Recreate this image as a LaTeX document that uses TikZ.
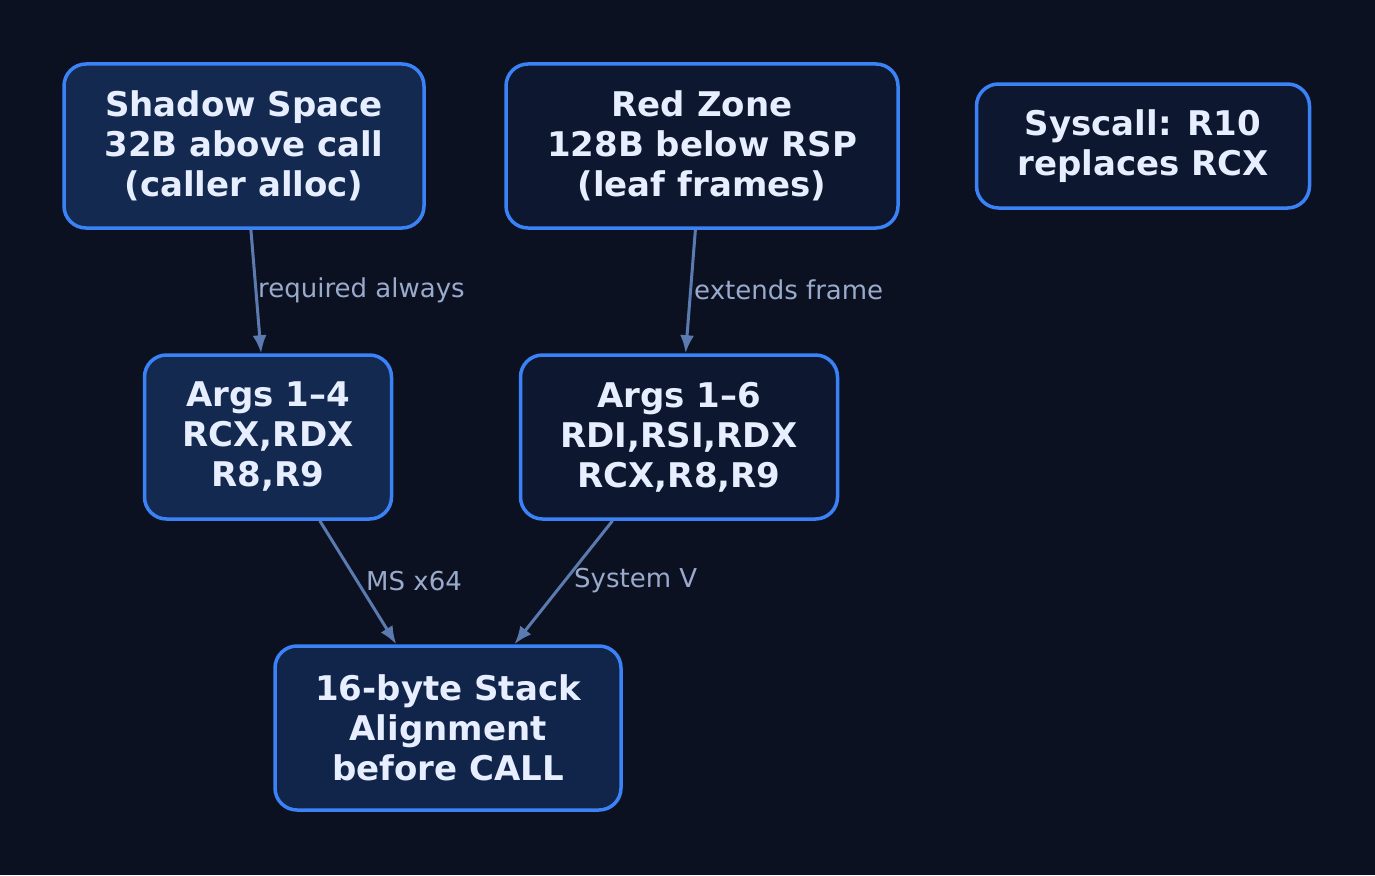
\documentclass[tikz,border=0pt]{standalone}
\usepackage{fontspec}
\setmainfont{DejaVu Sans}
\usetikzlibrary{arrows.meta}
\definecolor{bg}{HTML}{0B1120}
\definecolor{bd}{HTML}{3B82F6}
\definecolor{fa}{HTML}{13294F}
\definecolor{fb}{HTML}{0D1830}
\definecolor{fc}{HTML}{11244A}
\definecolor{tx}{HTML}{E6EEFF}
\definecolor{ed}{HTML}{5B7BB0}
\definecolor{lb}{HTML}{9AAACC}
\tikzset{
 box/.style={draw=bd,line width=3.5pt,rounded corners=22pt,text=tx,align=center,
   font=\fontsize{34}{40}\selectfont\bfseries,inner sep=0pt},
 conn/.style={draw=ed,line width=3pt,-{Latex[length=18pt,width=14pt]}},
 elab/.style={text=lb,font=\fontsize{26}{28}\selectfont,anchor=west,inner sep=0pt}
}
\begin{document}
\begin{tikzpicture}[x=1pt,y=-1pt]
\fill[bg] (0,0) rectangle (1375,875);
\useasboundingbox (0,0) rectangle (1375,875);
\node[box,fill=fa,minimum width=360pt,minimum height=164pt] (sh) at (244,146) {Shadow Space\\32B above call\\(caller alloc)};
\node[box,fill=fb,minimum width=392pt,minimum height=164pt] (rz) at (702,146) {Red Zone\\128B below RSP\\(leaf frames)};
\node[box,fill=fb,minimum width=333pt,minimum height=124pt] (sc) at (1143,146) {Syscall: R10\\replaces RCX};
\node[box,fill=fa,minimum width=247pt,minimum height=164pt] (a4) at (268,437) {Args 1–4\\RCX,RDX\\R8,R9};
\node[box,fill=fb,minimum width=317pt,minimum height=164pt] (a6) at (679,437) {Args 1–6\\RDI,RSI,RDX\\RCX,R8,R9};
\node[box,fill=fc,minimum width=346pt,minimum height=164pt] (al) at (448,728) {16-byte Stack\\Alignment\\before CALL};
\draw[conn] (sh) -- (a4);
\draw[conn] (rz) -- (a6);
\draw[conn] (a4) -- (al);
\draw[conn] (a6) -- (al);
\node[elab] (l1) at (258,290) {required always};
\node[elab] (l2) at (694,290) {extends frame};
\node[elab] (l3) at (366,581) {MS x64};
\node[elab] (l4) at (574,581) {System V};
\end{tikzpicture}
\end{document}
